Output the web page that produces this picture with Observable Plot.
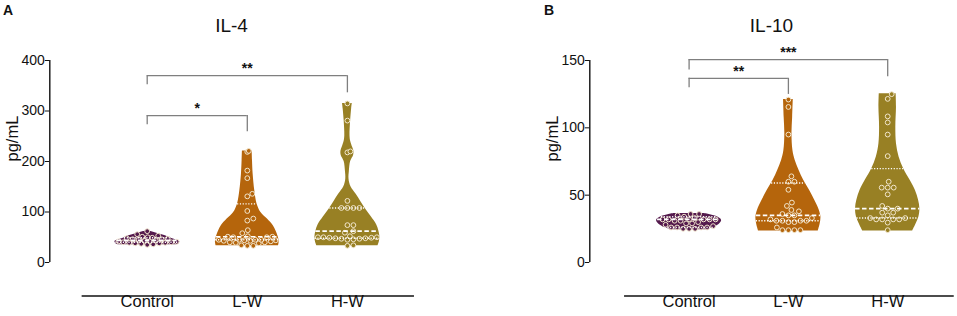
<!DOCTYPE html>
<html><head><meta charset="utf-8">
<script src="https://cdn.jsdelivr.net/npm/d3@7"></script>
<script src="https://cdn.jsdelivr.net/npm/@observablehq/plot@0.6"></script>
<style>
body{margin:0;background:#fff;font-family:Arial,"Liberation Sans",sans-serif;}
#wrap{position:relative;width:957px;height:316px;overflow:hidden;background:#fff;}
.panel{position:absolute;top:0;}
.lett{position:absolute;font-weight:bold;font-size:14px;line-height:1;color:#111;}
.ttl{position:absolute;font-size:19px;line-height:1;transform:translateX(-50%);color:#111;white-space:nowrap;}
</style></head><body><div id="wrap"></div>
<script>
const groups = ["Control", "L-W", "H-W"];
const colors = ["#541a4d", "#b5650c", "#988024"];

// IL-4 (pg/mL): individual values
const il4Control = [62, 56, 53, 51, 50, 49, 48, 47, 46, 46, 45, 44, 43, 42, 42, 41, 40, 40, 39, 39, 38, 38, 37, 36, 35];
const il4LW = [221, 219, 182, 167, 136, 131, 102, 87, 83, 64, 58, 52, 51, 51, 50, 50, 45, 45, 45, 45, 44, 44, 43, 43, 42, 40, 40, 39, 38, 34, 33, 33];
const il4HW = [315, 281, 220, 218, 122, 108, 108, 108, 108, 74, 74, 62, 59, 52, 50, 50, 50, 49, 49, 48, 48, 47, 47, 46, 45, 34, 33];
// IL-4 violin outlines: [value, relative density]
const il4ControlShape = [[35, 0.9], [38, 0.98], [41, 1], [44, 0.92], [47, 0.78], [50, 0.66], [53, 0.56], [56, 0.4], [59, 0.24], [62, 0.08]];
const il4LWShape = [[33, 0.96], [40, 0.98], [46, 0.97], [53, 0.94], [63, 0.88], [73, 0.8], [86, 0.62], [99, 0.42], [116, 0.3], [142, 0.23], [175, 0.18], [202, 0.16], [221, 0.15]];
const il4HWShape = [[33, 0.94], [40, 0.98], [50, 1], [62, 0.97], [75, 0.9], [90, 0.74], [105, 0.57], [120, 0.42], [135, 0.27], [150, 0.11], [165, 0.05], [180, 0.06], [200, 0.1], [212, 0.19], [220, 0.2], [228, 0.16], [240, 0.1], [251, 0.08], [281, 0.1], [304, 0.13], [315, 0.15]];
const il4Median = [44, 51, 62];
const il4Q1 = [40, 45, 48];
const il4Q3 = [49, 116, 108];
const il4Ticks = [0, 100, 200, 300, 400];
const il4Brackets = [
  {from: 1, to: 2, h: 291, l: 272.6, r: 259, label: "*"},
  {from: 1, to: 3, h: 370, l: 352, r: 336, label: "**"}
];

// IL-10 (pg/mL): individual values
const il10Control = [36, 36, 35, 34, 33, 32, 32, 32, 32, 32, 32, 31, 31, 30, 29, 29, 28, 27, 26, 26, 26, 26, 25, 25, 25];
const il10LW = [121, 115.5, 95, 64, 60, 60, 54, 44.5, 42, 39, 38, 36, 35, 35, 33, 32, 31, 31, 31, 31, 30, 30, 26, 24, 24, 24, 24];
const il10HW = [125, 121.5, 108.5, 104, 95, 79, 60, 55.6, 55.6, 55.6, 50.6, 42, 40, 40, 37, 37, 35, 33, 33, 32, 32, 32, 32, 29.6, 24];
// IL-10 violin outlines: [value, relative density]
const il10ControlShape = [[24.3, 0.5], [26.4, 0.8], [28.9, 0.95], [31.4, 1], [33.8, 0.88], [35.5, 0.65], [36.3, 0.45]];
const il10LWShape = [[23.4, 0.92], [28.9, 0.98], [33.8, 1], [38.8, 0.95], [46.2, 0.81], [53.6, 0.65], [61, 0.47], [68.4, 0.33], [75.8, 0.21], [83, 0.14], [95.6, 0.11], [107.5, 0.13], [121, 0.15]];
const il10HWShape = [[23.4, 0.77], [28.9, 0.88], [33.8, 0.96], [40, 0.99], [46.2, 0.95], [53.6, 0.85], [61, 0.69], [69.7, 0.49], [78.3, 0.35], [88.2, 0.27], [100.5, 0.25], [115.3, 0.27], [125.3, 0.26]];
const il10Median = [32, 35, 40];
const il10Q1 = [26, 31, 33];
const il10Q3 = [34, 59, 69.7];
const il10Ticks = [0, 50, 100, 150];
const il10Brackets = [
  {from: 1, to: 2, h: 136.8, l: 129.7, r: 124.8, label: "**"},
  {from: 1, to: 3, h: 150.7, l: 143, r: 138, label: "***"}
];

const FONT = "Arial, 'Liberation Sans', sans-serif";

function panel(cfg) {
  const H = 316, mt = 60, mb = 54;
  const pxY = (H - mt - mb) / cfg.ymax;
  const halfPx = 32.5;
  const violin = [], pts = [], stats = [];
  cfg.series.forEach((vals, gi) => {
    const g = groups[gi], c = gi + 1;
    const shape = cfg.shapes[gi];
    const rel = d3.scaleLinear(shape.map(d => d[0]), shape.map(d => d[1])).clamp(true);
    const hwPx = v => halfPx * rel(v);
    const hw = v => hwPx(v) / cfg.pxX;
    for (const [v, w] of shape) violin.push({g, v, x1: c - halfPx * w / cfg.pxX, x2: c + halfPx * w / cfg.pxX});
    // bounded beeswarm placement (points kept inside the violin)
    const r = 2.4, D = 2 * r + 1.2;
    const placed = [];
    const sorted = vals.slice().sort((a, b) => a - b);
    for (const v of sorted) {
      const yp = v * pxY;
      const lim = Math.max(0, hwPx(v) - r - 0.6);
      const cands = [0];
      for (let o = 0.5; o <= lim; o += 0.5) cands.push(o, -o);
      let best = 0, bestScore = -Infinity;
      for (const o of cands) {
        const md = placed.length ? d3.min(placed, p => Math.hypot(o - p.x, yp - p.y)) : Infinity;
        if (md >= D) { best = o; break; }
        if (md > bestScore) { bestScore = md; best = o; }
      }
      placed.push({x: best, y: yp});
      pts.push({g, v, x: c + best / cfg.pxX});
    }
    for (const [kind, arr] of [["med", cfg.med], ["q", cfg.q1], ["q", cfg.q3]]) {
      const v = arr[gi];
      stats.push({g, kind, v, x1: c - hw(v), x2: c + hw(v)});
    }
  });
  const x0 = cfg.x0;
  const x1 = x0 + (cfg.width - cfg.ml) / cfg.pxX;
  const br = cfg.brackets;
  return Plot.plot({
    width: cfg.width, height: H,
    marginLeft: cfg.ml, marginRight: 0, marginTop: mt, marginBottom: mb,
    x: {domain: [x0, x1], axis: null},
    y: {domain: [0, cfg.ymax], axis: null},
    color: {domain: groups, range: colors},
    style: {fontFamily: FONT, fontSize: "13px", color: "#111", background: "white", overflow: "visible"},
    marks: [
      Plot.ruleX([x0], {stroke: "#111", strokeWidth: 1.4}),
      Plot.axisY({ticks: cfg.ticks, tickSize: 4.5, tickPadding: 0.5, label: null, fontSize: 14, stroke: "#111"}),
      Plot.text(["pg/mL"], {frameAnchor: "left", rotate: -90, dx: -37, fontSize: 16.5, fill: "#111"}),
      Plot.areaX(violin, {y: "v", x1: "x1", x2: "x2", z: "g", fill: "g", curve: "catmull-rom"}),
      Plot.dot(pts, {x: "x", y: "v", r: 2.4, fill: "g", stroke: "#f2e6cc", strokeWidth: 1}),
      Plot.ruleY(stats.filter(d => d.kind === "med"), {y: "v", x1: "x1", x2: "x2", stroke: "white", strokeWidth: 1.7, strokeDasharray: "4.5,2.5"}),
      Plot.ruleY(stats.filter(d => d.kind === "q"), {y: "v", x1: "x1", x2: "x2", stroke: "white", strokeWidth: 1.4, strokeDasharray: "1.2,1.6"}),
      Plot.ruleY(br, {y: "h", x1: "from", x2: "to", stroke: "#7f7f7f", strokeWidth: 1.3}),
      Plot.ruleX(br, {x: "from", y1: "l", y2: "h", stroke: "#7f7f7f", strokeWidth: 1.3}),
      Plot.ruleX(br, {x: "to", y1: "r", y2: "h", stroke: "#7f7f7f", strokeWidth: 1.3}),
      Plot.text(br, {x: d => (d.from + d.to) / 2, y: "h", text: "label", lineAnchor: "bottom", dy: -2.5, fontSize: 14, fontWeight: "bold", fill: "#111"}),
      Plot.ruleY([0], {x1: 0.35, x2: 3.67, dy: 33.5, stroke: "#111", strokeWidth: 1.4}),
      Plot.text(groups, {x: (d, i) => i + 1, frameAnchor: "bottom", dy: 44, fontSize: 16.5, fill: "#111"})
    ]
  });
}

const wrap = document.getElementById("wrap");
function addPanel(left, cfg, letter, letterX, title, titleX) {
  const div = document.createElement("div");
  div.className = "panel";
  div.style.left = left + "px";
  div.appendChild(panel(cfg));
  wrap.appendChild(div);
  const l = document.createElement("div");
  l.className = "lett"; l.textContent = letter;
  l.style.left = letterX + "px"; l.style.top = "3px";
  wrap.appendChild(l);
  const t = document.createElement("div");
  t.className = "ttl"; t.textContent = title;
  t.style.left = titleX + "px"; t.style.top = "15.5px";
  wrap.appendChild(t);
}

addPanel(0, {
  width: 478, ml: 49.3, pxX: 100.1, x0: 0.027, ymax: 400, ticks: il4Ticks,
  series: [il4Control, il4LW, il4HW], shapes: [il4ControlShape, il4LWShape, il4HWShape],
  med: il4Median, q1: il4Q1, q3: il4Q3, brackets: il4Brackets
}, "A", 3, "IL-4", 231.5);

addPanel(478, {
  width: 479, ml: 111.3, pxX: 99.3, x0: 0, ymax: 150, ticks: il10Ticks,
  series: [il10Control, il10LW, il10HW], shapes: [il10ControlShape, il10LWShape, il10HWShape],
  med: il10Median, q1: il10Q1, q3: il10Q3, brackets: il10Brackets
}, "B", 544, "IL-10", 771.5);
</script></body></html>
